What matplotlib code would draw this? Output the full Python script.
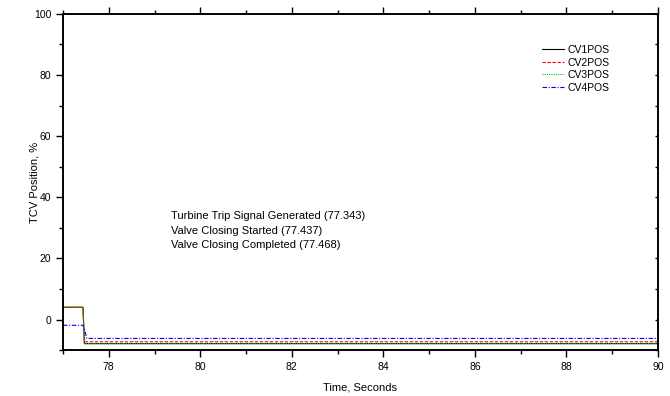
import matplotlib.pyplot as plt
from matplotlib.ticker import MultipleLocator

plt.rcParams['font.family'] = ['Liberation Sans', 'DejaVu Sans']

# time / position samples
t = [77.0, 77.437, 77.45, 77.468, 77.5, 90.0]
cv1 = [4.0, 4.0, -1.0, -7.9, -7.9, -7.9]
cv2 = [4.0, 4.0, -1.0, -7.3, -7.3, -7.3]
cv3 = [4.0, 4.0, -1.0, -7.9, -7.9, -7.9]
t4 = [77.0, 77.437, 77.468, 77.52, 90.0]
cv4 = [-1.9, -1.9, -3.0, -6.2, -6.2]

notes = ['Turbine Trip Signal Generated (77.343)',
         'Valve Closing Started (77.437)',
         'Valve Closing Completed (77.468)']

fig = plt.figure(figsize=(6.7, 3.96), dpi=100)
ax = fig.add_axes([0.094, 0.116, 0.888, 0.849])

ax.plot(t, cv1, color='black', lw=0.8, label='CV1POS')
ax.plot(t, cv2, color='red', lw=0.8, ls=(0, (3, 1.5)), label='CV2POS')
ax.plot(t, cv3, color='#00cc00', lw=0.8, ls=(0, (1, 1)), label='CV3POS')
ax.plot(t4, cv4, color='blue', lw=0.8, ls=(0, (4, 1.5, 1, 1.5)), label='CV4POS')

ax.set_xlim(77, 90)
ax.set_ylim(-10, 100)
ax.xaxis.set_major_locator(MultipleLocator(2))
ax.xaxis.set_minor_locator(MultipleLocator(1))
ax.yaxis.set_major_locator(MultipleLocator(20))
ax.yaxis.set_minor_locator(MultipleLocator(10))
ax.tick_params(which='both', direction='out', top=True, right=True,
               labeltop=False, labelright=False, labelsize=7.5, width=1)
ax.tick_params(which='major', length=5)
ax.tick_params(which='minor', length=3)
ax.tick_params(axis='y', which='both', right=False)
# short inward ticks on the right spine
ax2 = ax.twinx()
ax2.set_ylim(ax.get_ylim())
ax2.yaxis.set_major_locator(MultipleLocator(10))
ax2.tick_params(axis='y', direction='in', length=2, width=1, labelright=False)
for a in (ax, ax2):
    for s in a.spines.values():
        s.set_linewidth(1.2)

ax.set_xlabel('Time, Seconds', fontsize=8, labelpad=8)
ax.set_ylabel('TCV Position, %', fontsize=8, labelpad=-4)

ax.text(79.35, 35.4, '\n'.join(notes), fontsize=8, va='top',
        linespacing=1.55)

ax.legend(loc='upper left', bbox_to_anchor=(0.798, 0.92), borderaxespad=0,
          frameon=False, fontsize=7.5, handlelength=2.1, labelspacing=0.25,
          handletextpad=0.4)

fig.savefig('out.png')
